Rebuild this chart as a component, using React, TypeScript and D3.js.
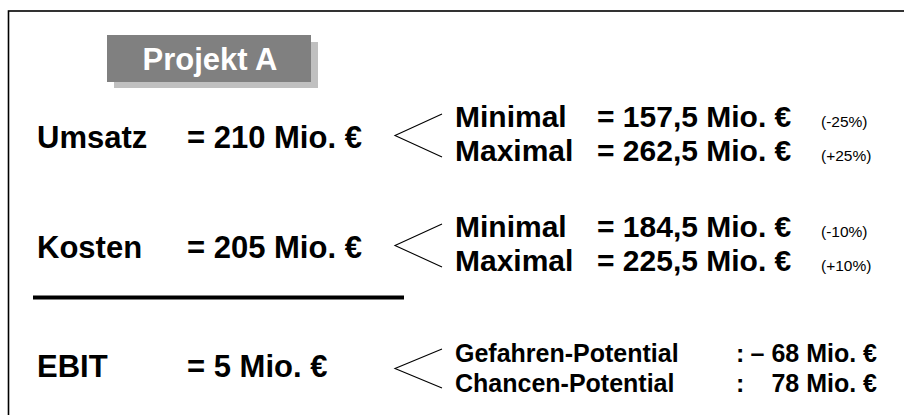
import * as d3 from "d3";

const WIDTH = 904;
const HEIGHT = 415;
const FONT = "'Liberation Sans', Arial, Helvetica, sans-serif";

const title = "Projekt A";

const rows = ["Umsatz", "Kosten", "EBIT"];
const rowValues = ["= 210 Mio. €", "= 205 Mio. €", "= 5 Mio. €"];

const subLabels = [
  ["Minimal", "Maximal"],
  ["Minimal", "Maximal"],
  ["Gefahren-Potential", "Chancen-Potential"],
];
const subValues = [
  ["= 157,5 Mio. €", "= 262,5 Mio. €"],
  ["= 184,5 Mio. €", "= 225,5 Mio. €"],
  ["– 68 Mio. €", "78 Mio. €"],
];
const subChanges = [
  ["(-25%)", "(+25%)"],
  ["(-10%)", "(+10%)"],
  ["", ""],
];

const App = () => {
  // row baselines: Umsatz, Kosten, then EBIT pushed down below the rule
  const yScale = d3.scaleLinear().domain([0, 1]).range([148, 258]);
  const ruleGap = 9;
  const rowY = (i: number) => yScale(i) + (i >= 2 ? ruleGap : 0);
  const ruleY = (yScale(1) + rowY(2)) / 2 - 20;

  const xCol = d3
    .scaleOrdinal<string, number>()
    .domain(["label", "value", "bracket", "sub", "subValue", "change", "colon", "end"])
    .range([37, 187, 395, 455, 597, 821, 736, 877]);

  return (
    <svg
      width={WIDTH}
      height={HEIGHT}
      style={{ position: "absolute", left: 0, top: 0, background: "#fff" }}
      fontFamily={FONT}
    >
      {/* frame (right and bottom sides outside view) */}
      <rect x={8.5} y={11} width={1200} height={1200} fill="none" stroke="#000" strokeWidth={1.6} />

      {/* title box */}
      <rect x={114} y={42} width={204} height={46} fill="#c0c0c0" />
      <rect x={107} y={35} width={204} height={47} fill="#808080" />
      <text x={210} y={70} textAnchor="middle" fill="#fff" fontWeight="bold" fontSize={31}>
        {title}
      </text>

      {rows.map((row, i) => {
        const y = rowY(i);
        const small = i === 2;
        const subFs = small ? 25 : 30;
        const b1 = small ? y - 15 : y - 21;
        const b2 = small ? y + 15 : y + 13;
        const top = b1 - 13;
        const bottom = b2 - 4;
        const tipX = xCol("bracket");
        const endX = tipX + 47;
        const tipY = (top + bottom) / 2;
        return (
          <g key={row}>
            <text x={xCol("label")} y={y} fontWeight="bold" fontSize={31}>
              {row}
            </text>
            <text x={xCol("value")} y={y} fontWeight="bold" fontSize={31}>
              {rowValues[i]}
            </text>
            <path
              d={`M${endX},${top} L${tipX},${tipY} L${endX},${bottom}`}
              fill="none"
              stroke="#000"
              strokeWidth={1.1}
            />
            {[b1, b2].map((by, j) => (
              <g key={j}>
                <text x={xCol("sub")} y={by} fontWeight="bold" fontSize={subFs}>
                  {subLabels[i][j]}
                </text>
                {small ? (
                  <>
                    <text x={xCol("colon")} y={by} fontWeight="bold" fontSize={subFs}>
                      :
                    </text>
                    <text x={xCol("end")} y={by} fontWeight="bold" fontSize={subFs} textAnchor="end">
                      {subValues[i][j]}
                    </text>
                  </>
                ) : (
                  <>
                    <text x={xCol("subValue")} y={by} fontWeight="bold" fontSize={subFs}>
                      {subValues[i][j]}
                    </text>
                    <text x={xCol("change")} y={by} fontSize={15.5}>
                      {subChanges[i][j]}
                    </text>
                  </>
                )}
              </g>
            ))}
          </g>
        );
      })}

      {/* underline before EBIT */}
      <line x1={33} x2={404} y1={ruleY} y2={ruleY} stroke="#000" strokeWidth={4} />
    </svg>
  );
};

export default App;
